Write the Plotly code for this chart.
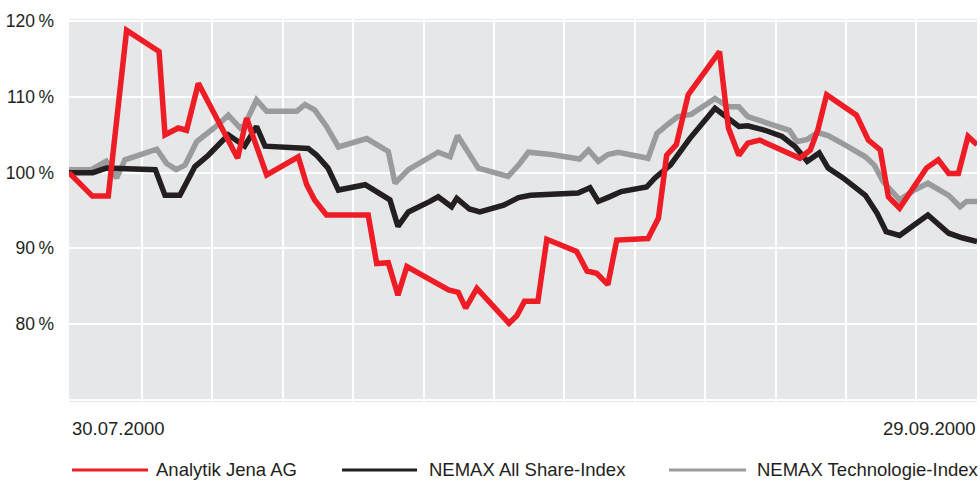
import numpy as np
import plotly.graph_objects as go

# ---- data (x = days since 30.07.2000, y = performance in %) ----
start_label = "30.07.2000"
end_label = "29.09.2000"

analytik_days = [0, 1.57, 2.64, 3.87, 6.05, 6.45, 7.34, 7.9, 8.69, 11.33, 11.93, 13.28, 15.4, 15.97,
                 16.5, 17.3, 20.1, 20.67, 21.45, 22.1, 22.7, 24.8, 25.5, 26.15, 26.65, 27.4, 29.56,
                 30.08, 30.6, 31.5, 32.1, 34.1, 34.8, 35.45, 36.2, 36.8, 38.9, 39.6, 40.15, 40.8,
                 41.6, 43.7, 44.3, 45.0, 45.6, 46.4, 48.4, 49.1, 49.8, 50.3, 50.9, 52.9, 53.7, 54.5,
                 55.05, 55.8, 57.6, 58.4, 59.1, 59.75, 60.4, 61]
analytik_vals = [100.0, 96.9, 96.9, 118.8, 116.0, 105.0, 105.9, 105.6, 111.8, 101.9, 107.2, 99.7, 102.1,
                 98.4, 96.4, 94.4, 94.4, 88.0, 88.1, 83.8, 87.6, 85.2, 84.5, 84.2, 82.1, 84.7, 80.1,
                 81.1, 83.0, 83.0, 91.2, 89.6, 87.0, 86.7, 85.2, 91.1, 91.3, 94.0, 102.3, 103.7,
                 110.3, 116.0, 105.9, 102.3, 103.9, 104.3, 102.6, 101.9, 103.0, 105.6, 110.3, 107.6,
                 104.3, 103.0, 96.8, 95.3, 100.6, 101.7, 99.9, 99.9, 104.8, 103.7]

nemax_all_days = [0, 1.6, 2.5, 3.5, 5.8, 6.45, 7.45, 8.46, 9.36, 10.7, 11.8, 12.6, 13.17, 16.07, 16.64,
                  17.4, 18.1, 19.9, 20.9, 21.56, 22.1, 22.8, 24.25, 24.8, 25.7, 26.05, 26.9, 27.6,
                  29.2, 30.2, 31.0, 32.4, 34.2, 35.0, 35.56, 36.3, 37.1, 38.8, 39.37, 40.4, 41.7,
                  43.4, 45.0, 45.6, 46.76, 47.9, 48.8, 49.6, 50.4, 51.0, 52.0, 53.5, 54.3, 54.9,
                  55.8, 57.7, 59.1, 60.0, 61]
nemax_all_vals = [100.0, 100.0, 100.6, 100.5, 100.4, 97.0, 97.0, 100.8, 102.3, 105.0, 103.5, 106.1,
                  103.5, 103.2, 102.3, 100.6, 97.7, 98.4, 97.3, 96.4, 92.9, 94.8, 96.2, 96.8, 95.5,
                  96.6, 95.2, 94.8, 95.7, 96.7, 97.0, 97.1, 97.3, 98.0, 96.2, 96.8, 97.5, 98.1, 99.3,
                  101.0, 104.5, 108.5, 106.1, 106.2, 105.6, 104.8, 103.4, 101.5, 102.6, 100.6, 99.3,
                  97.0, 94.6, 92.2, 91.7, 94.4, 92.0, 91.4, 90.9]

nemax_tech_days = [0, 1.5, 2.5, 3.2, 3.76, 5.9, 6.56, 7.2, 7.8, 8.58, 10.0, 10.7, 11.5, 11.8, 12.6,
                   13.28, 15.3, 15.85, 16.5, 17.3, 18.1, 20.0, 21.45, 21.9, 22.8, 24.8, 25.6, 26.1,
                   27.5, 29.5, 30.2, 30.86, 32.4, 34.3, 34.9, 35.56, 36.2, 36.9, 38.9, 39.5, 40.3,
                   40.9, 41.8, 43.4, 44.3, 45.0, 45.6, 46.5, 48.4, 48.9, 49.6, 50.3, 51.0, 52.1,
                   53.5, 54.1, 54.7, 55.8, 56.8, 57.7, 59.1, 59.86, 60.3, 61]
nemax_tech_vals = [100.4, 100.4, 101.5, 99.3, 101.7, 103.1, 101.2, 100.4, 101.0, 104.1, 106.3, 107.6,
                   105.9, 106.3, 109.6, 108.1, 108.1, 109.0, 108.3, 106.1, 103.4, 104.5, 102.8, 98.6,
                   100.4, 102.7, 102.1, 104.9, 100.6, 99.5, 101.0, 102.7, 102.4, 101.8, 103.0, 101.5,
                   102.4, 102.7, 101.9, 105.2, 106.5, 107.4, 107.7, 109.8, 108.7, 108.7, 107.4, 106.8,
                   105.6, 104.1, 104.4, 105.3, 104.9, 103.7, 102.1, 101.0, 98.8, 96.4, 97.7, 98.6,
                   97.0, 95.5, 96.2, 96.2]

series_names = ["Analytik Jena AG", "NEMAX All Share-Index", "NEMAX Technologie-Index"]
series_colors = ["#ee1c25", "#231f20", "#9a9b9d"]

y_ticks = [70, 80, 90, 100, 110, 120]
y_ticktext = ["", "80\u2009%", "90\u2009%", "100\u2009%", "110\u2009%", "120\u2009%"]

TEXT = "#231f20"
FONT = "Liberation Sans, Arial, sans-serif"

fig = go.Figure()
# draw gray, then black, then red on top
for days, vals, name, color in [
    (nemax_tech_days, nemax_tech_vals, series_names[2], series_colors[2]),
    (nemax_all_days, nemax_all_vals, series_names[1], series_colors[1]),
    (analytik_days, analytik_vals, series_names[0], series_colors[0]),
]:
    fig.add_trace(go.Scatter(x=days, y=vals, mode="lines", name=name,
                             line=dict(color=color, width=5.5), showlegend=False,
                             hoverinfo="skip"))

grid_x = list(np.arange(4.9, 61, 4.73))

fig.update_layout(
    width=980, height=484,
    margin=dict(l=69, r=3, t=19, b=82),
    paper_bgcolor="white",
    plot_bgcolor="#e6e7e8",
    font=dict(family=FONT, color=TEXT, size=17),
    xaxis=dict(range=[0, 61], tickvals=grid_x, showticklabels=False, ticks="",
               showgrid=True, gridcolor="white", gridwidth=2, zeroline=False, showline=False),
    yaxis=dict(range=[69.7, 120.3], tickvals=y_ticks, ticktext=y_ticktext,
               showgrid=True, gridcolor="white", gridwidth=2, zeroline=False, showline=False,
               ticks="", ticklabelstandoff=14, tickfont=dict(size=17.5, color=TEXT)),
)

# date labels under the axis
fig.add_annotation(x=0, y=-0.068, xref="x", yref="paper", text=start_label, showarrow=False,
                   xanchor="left", yanchor="middle", xshift=1, font=dict(size=18.5, color=TEXT))
fig.add_annotation(x=61, y=-0.068, xref="x", yref="paper", text=end_label, showarrow=False,
                   xanchor="right", yanchor="middle", xshift=1, font=dict(size=18.5, color=TEXT))

# legend (manual, long line samples)
legend_y = -0.1775
legend_items = [(0.0033, 0.087, 0.0937), (0.3007, 0.3833, 0.3944), (0.6608, 0.7456, 0.7556)]
for (x0, x1, xt), name, color in zip(legend_items, series_names, series_colors):
    fig.add_shape(type="line", xref="paper", yref="paper", x0=x0, x1=x1, y0=legend_y, y1=legend_y,
                  line=dict(color=color, width=3))
    fig.add_annotation(x=xt, y=legend_y, xref="paper", yref="paper", text=name, showarrow=False,
                       xanchor="left", yanchor="middle", font=dict(size=18.5, color=TEXT))

fig.write_html("out.html", config={"displayModeBar": False},
               post_script="document.body.style.margin='0';document.body.style.overflow='hidden';")
